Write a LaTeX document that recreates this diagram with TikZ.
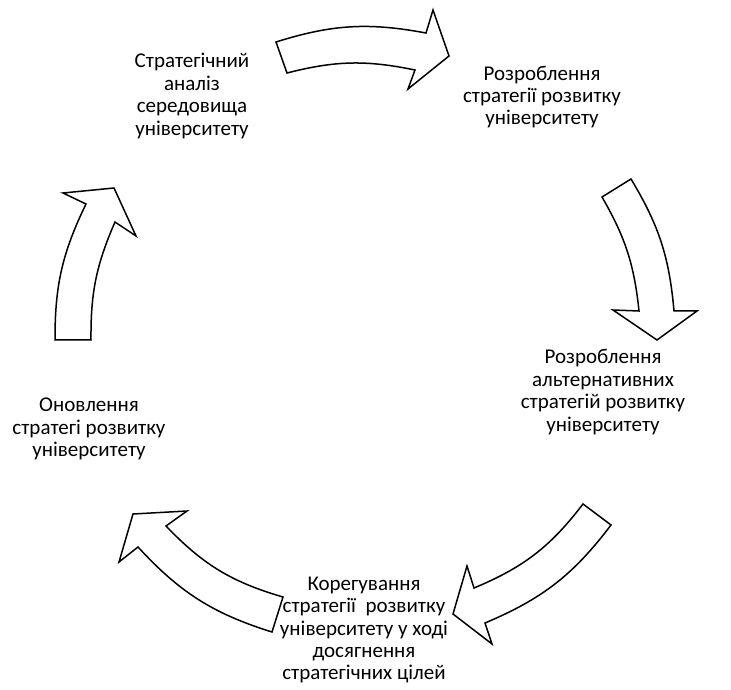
\documentclass[tikz,border=0pt]{standalone}
\usepackage{fontspec}
\setmainfont{Carlito}
\begin{document}
\begin{tikzpicture}[x=1pt,y=1pt,
  txt/.style={align=center,inner sep=0pt,font=\fontsize{21}{22.4}\selectfont},
  bigarrow/.style={draw,fill=white,line width=1.5pt,line join=miter}]
  \useasboundingbox (0,0) rectangle (731,689);
  % Define nodes
  \node[txt] (analiz) at (192,593) {Стратегічний\\аналіз\\середовища\\університету};
  \node[txt] (rozroblennia) at (542,592) {Розроблення\\стратегії розвитку\\університету};
  \node[txt] (alternatyvy) at (603,297) {Розроблення\\альтернативних\\стратегій розвитку\\університету};
  \node[txt] (koreguvannia) at (364,59) {Корегування\\стратегії~ розвитку\\університету у ході\\досягнення\\стратегічних цілей};
  \node[txt] (onovlennia) at (89,260) {Оновлення\\стратегі розвитку\\університету};

  % Draw block arrows
  \draw[bigarrow] (276,647) to[bend left=14] (426,656) -- (433,679) -- (449,633) -- (408,600) -- (415,619) to[bend right=13] (287,616) -- cycle;
  \draw[bigarrow] (631,510) to[bend left=13] (674,378) -- (697,378) -- (657,349) -- (613,379) -- (639,378) to[bend right=12] (602,492) -- cycle;
  \draw[bigarrow] (611,164) to[bend left=15] (485,66) -- (492,45) -- (453,75) -- (467,123) -- (474,101) to[bend right=15] (583,185) -- cycle;
  \draw[bigarrow] (272,57) to[bend left=15] (138,142) -- (119,127) -- (133,175) -- (187,178) -- (166,163) to[bend right=15] (283,92) -- cycle;
  \draw[bigarrow] (55,349) to[bend left=13] (86,485) -- (63,496) -- (114,501) -- (136,453) -- (115,467) to[bend right=12] (91,349) -- cycle;
\end{tikzpicture}
\end{document}
